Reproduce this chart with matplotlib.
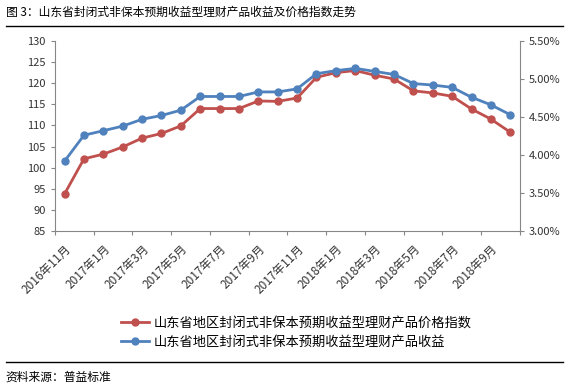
import matplotlib.pyplot as plt
from matplotlib.lines import Line2D
from matplotlib.ticker import FuncFormatter

plt.rcParams['font.family'] = ['Noto Sans CJK SC', 'DejaVu Sans']

months = ['2016年11月', '2016年12月',
          '2017年1月', '2017年2月', '2017年3月', '2017年4月', '2017年5月', '2017年6月',
          '2017年7月', '2017年8月', '2017年9月', '2017年10月', '2017年11月', '2017年12月',
          '2018年1月', '2018年2月', '2018年3月', '2018年4月', '2018年5月', '2018年6月',
          '2018年7月', '2018年8月', '2018年9月', '2018年10月']
price_index = [93.8, 102.1, 103.2, 104.9, 107.0, 108.1, 109.9, 114.0, 114.0, 114.0,
               115.8, 115.7, 116.5, 121.4, 122.5, 123.0, 121.9, 121.0, 118.2, 117.7,
               116.9, 113.9, 111.5, 108.4]
yield_pct = [3.92, 4.26, 4.32, 4.38, 4.47, 4.52, 4.59, 4.77, 4.77, 4.77,
             4.83, 4.83, 4.87, 5.07, 5.11, 5.14, 5.10, 5.06, 4.94, 4.92,
             4.89, 4.76, 4.66, 4.53]
left_ticks = [85, 90, 95, 100, 105, 110, 115, 120, 125, 130]
right_ticks = [3.0, 3.5, 4.0, 4.5, 5.0, 5.5]

red = '#C0504D'
blue = '#4F81BD'
axis_grey = '#868686'

fig = plt.figure(figsize=(5.72, 3.85), dpi=100)
ax = fig.add_axes([0.096, 0.4, 0.813, 0.4935])
ax2 = ax.twinx()

x = list(range(len(months)))
ax.plot(x, price_index, color=red, lw=2, marker='o', ms=5, zorder=3)
ax2.plot(x, yield_pct, color=blue, lw=2, marker='o', ms=5, zorder=3)

ax.set_xlim(-0.5, len(months) - 0.5)
ax.set_ylim(85, 130)
ax.set_yticks(left_ticks)
ax2.set_ylim(3.0, 5.5)
ax2.set_yticks(right_ticks)
ax2.yaxis.set_major_formatter(FuncFormatter(lambda v, p: f'{v:.2f}%'))

# ticks between categories, labels every other month
ax.set_xticks([i - 0.5 for i in range(0, len(months) + 1, 2)])
ax.set_xticklabels([])
ax.set_xticks(x[::2], minor=True)
ax.set_xticklabels(months[::2], minor=True, rotation=45, ha='right',
                   rotation_mode='anchor', fontsize=8.5, color='#333333')
ax.tick_params(axis='x', which='minor', length=0, pad=8)
ax.tick_params(axis='x', which='major', length=3, color=axis_grey)

for a in (ax, ax2):
    a.spines['top'].set_visible(False)
    for s in ('left', 'right', 'bottom'):
        a.spines[s].set_color(axis_grey)
ax.spines['right'].set_visible(False)
ax2.spines['left'].set_visible(False)
ax2.spines['bottom'].set_visible(False)
ax.tick_params(axis='y', length=3, color=axis_grey, labelsize=8, labelcolor='#333333')
ax2.tick_params(axis='y', length=3, color=axis_grey, labelsize=8, labelcolor='#333333')

handles = [Line2D([], [], color=red, lw=2, marker='o', ms=5),
           Line2D([], [], color=blue, lw=2, marker='o', ms=5)]
fig.legend(handles, ['山东省地区封闭式非保本预期收益型理财产品价格指数',
                     '山东省地区封闭式非保本预期收益型理财产品收益'],
           loc='upper left', bbox_to_anchor=(0.2, 0.195), frameon=False,
           fontsize=9.5, handlelength=2.1, handletextpad=0.4, labelspacing=0.45,
           borderpad=0)

fig.text(0.01, 0.968, '图 3：山东省封闭式非保本预期收益型理财产品收益及价格指数走势',
         fontsize=8.5, va='center', ha='left')
fig.add_artist(Line2D([0.01, 0.985], [0.933, 0.933], color='black', lw=1))
fig.add_artist(Line2D([0.01, 0.985], [0.06, 0.06], color='black', lw=1))
fig.text(0.01, 0.02, '资料来源：普益标准', fontsize=8.5, va='center', ha='left')

fig.savefig('out.png', dpi=100)
